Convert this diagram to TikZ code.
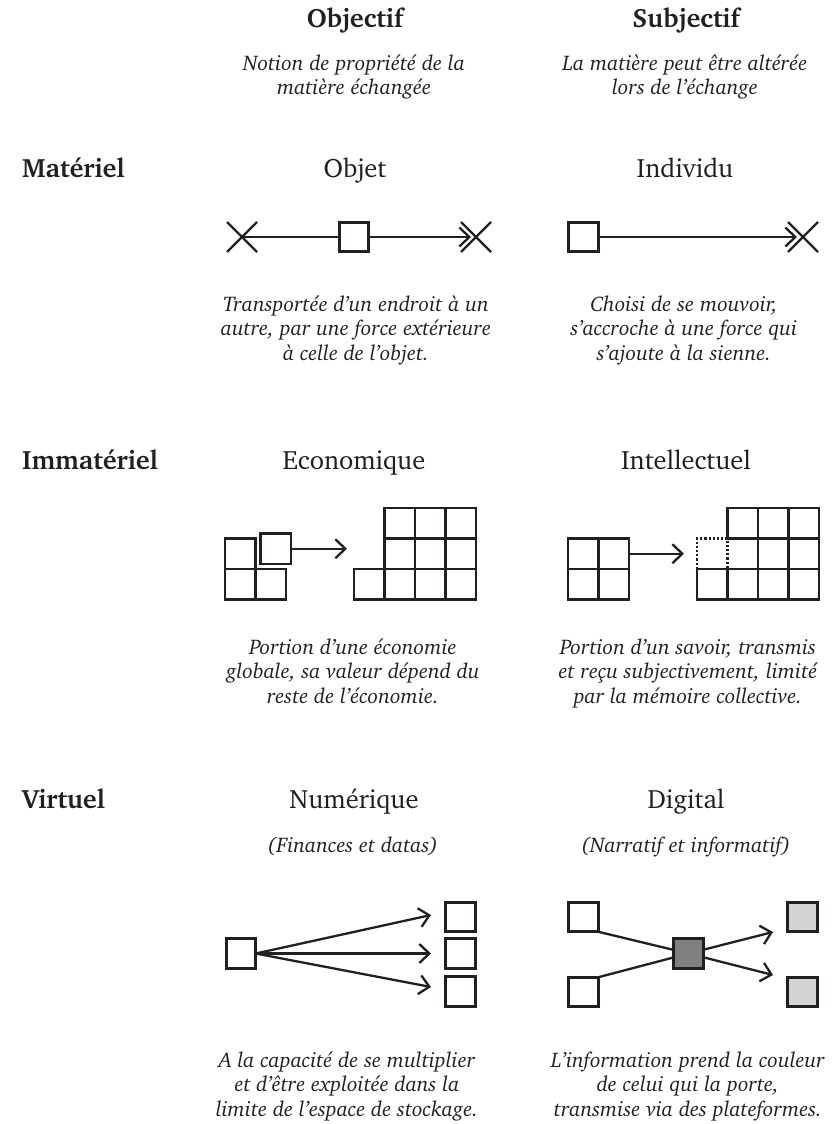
\documentclass[tikz,border=0pt]{standalone}
\usepackage[T1]{fontenc}
\usepackage{charter}
\usetikzlibrary{arrows.meta}
\definecolor{ink}{HTML}{231F20}
\definecolor{darkfill}{HTML}{7F7F80}
\definecolor{lightfill}{HTML}{D3D3D4}
\begin{document}
\begin{tikzpicture}[x=1pt,y=-1pt,
  head/.style={font=\fontsize{26.5}{30}\selectfont\bfseries, text=ink, inner sep=0, anchor=base},
  title/.style={font=\fontsize{26.5}{30}\selectfont, text=ink, inner sep=0, anchor=base},
  desc/.style={font=\fontsize{21.2}{24.5}\selectfont\itshape, text=ink, inner sep=0, anchor=base, align=center},
  sq/.style={draw=ink, line width=2.7pt, minimum size=29.5pt, inner sep=0, outer sep=0, fill=white},
  cellnode/.style={draw=ink, line width=2.7pt, minimum size=30.5pt, inner sep=0, outer sep=0},
  conn/.style={draw=ink, line width=2.3pt},
  arr/.style={conn, -{Straight Barb[length=10pt,width=19pt]}},
  cross/.style={draw=ink, line width=2.3pt},
  dotcell/.style={draw=ink, line width=2.4pt, dash pattern=on 2.2pt off 2pt}
]
\fill[white] (0,0) rectangle (838,1124);
\useasboundingbox (0,0) rectangle (838,1124);

% column headers
\node[head] (hObj) at (355,28) {Objectif};
\node[head] (hSub) at (686,28) {Subjectif};
\node[desc] (dObj) at (354,95) {Notion de propriété de la\\matière échangée};
\node[desc] (dSub) at (685,95) {La matière peut être altérée\\lors de l'échange};

% row headers
\node[head, anchor=base west] (rMat) at (22,177) {Matériel};
\node[head, anchor=base west] (rImm) at (22,469) {Immatériel};
\node[head, anchor=base west] (rVir) at (22,808) {Virtuel};

% titles
\node[title] (tObj) at (355,177) {Objet};
\node[title] (tInd) at (685,177) {Individu};
\node[title] (tEco) at (354,469) {Economique};
\node[title] (tInt) at (686,469) {Intellectuel};
\node[title] (tNum) at (354,808) {Numérique};
\node[title] (tDig) at (686,808) {Digital};
\node[desc] (sNum) at (353,852) {(Finances et datas)};
\node[desc] (sDig) at (686,852) {(Narratif et informatif)};

% captions (base = baseline of the last line)
\node[desc] (cObj) at (356,360) {Transportée d'un endroit à un\\autre, par une force extérieure\\à celle de l'objet.};
\node[desc] (cInd) at (684,360) {Choisi de se mouvoir,\\s'accroche à une force qui\\s'ajoute à la sienne.};
\node[desc] (cEco) at (353,703) {Portion d'une économie\\globale, sa valeur dépend du\\reste de l'économie.};
\node[desc] (cInt) at (688,703) {Portion d'un savoir, transmis\\et reçu subjectivement, limité\\par la mémoire collective.};
\node[desc] (cNum) at (347,1116) {A la capacité de se multiplier\\et d'être exploitée dans la\\limite de l'espace de stockage.};
\node[desc] (cDig) at (688,1116) {L'information prend la couleur\\de celui qui la porte,\\transmise via des plateformes.};

% ---- Objet
\coordinate (objL) at (242,237);
\coordinate (objR) at (471,237);
\coordinate (objX) at (476,237);
\node[sq] (objBox) at (354,237) {};
\draw[conn] (objL) -- (objBox.west);
\draw[arr] (objBox.east) -- (objR);
\draw[cross] ([shift={(-15,-15)}]objL) -- ([shift={(15,15)}]objL)
             ([shift={(-15,15)}]objL) -- ([shift={(15,-15)}]objL);
\draw[cross] ([shift={(-15,-15)}]objX) -- ([shift={(15,15)}]objX)
             ([shift={(-15,15)}]objX) -- ([shift={(15,-15)}]objX);

% ---- Individu
\coordinate (indR) at (797,237);
\coordinate (indX) at (803,237);
\node[sq] (indBox) at (583.5,237) {};
\draw[arr] (indBox.east) -- (indR);
\draw[cross] ([shift={(-15,-15)}]indX) -- ([shift={(15,15)}]indX)
             ([shift={(-15,15)}]indX) -- ([shift={(15,-15)}]indX);

% ---- Economique
\node[cellnode] (eL1) at (240.25,553.75) {};
\node[cellnode] (eL2) at (240.25,584.25) {};
\node[cellnode] (eL3) at (270.75,584.25) {};
\node[cellnode] (eUp) at (275.75,548.75) {};
\coordinate (eTip) at (347,548.75);
\draw[arr] (eUp.east) -- (eTip);
\foreach \i in {0,...,3} \node[cellnode] (eB\i) at (369.25+\i*30.5,584.25) {};
\foreach \i in {1,2,3} {
  \node[cellnode] (eM\i) at (369.25+\i*30.5,553.75) {};
  \node[cellnode] (eT\i) at (369.25+\i*30.5,523.25) {};
}

% ---- Intellectuel
\node[cellnode] (iL1) at (583.25,553.75) {};
\node[cellnode] (iL2) at (613.75,553.75) {};
\node[cellnode] (iL3) at (583.25,584.25) {};
\node[cellnode] (iL4) at (613.75,584.25) {};
\coordinate (iTip) at (684,553.75);
\draw[arr] (iL2.east) -- (iTip);
\foreach \i in {0,...,3} \node[cellnode] (iB\i) at (712.25+\i*30.5,584.25) {};
\foreach \i in {1,2,3} \node[cellnode] (iT\i) at (712.25+\i*30.5,523.25) {};
\foreach \i in {2,3} \node[cellnode] (iM\i) at (712.25+\i*30.5,553.75) {};
\draw[dotcell] (697,569) -- (697,538.5) -- (727.5,538.5) -- (727.5,569);

% ---- Numerique
\node[sq] (nL) at (241,953.5) {};
\node[sq] (nR1) at (460.5,917) {};
\node[sq] (nR2) at (460.5,953.5) {};
\node[sq] (nR3) at (460.5,991.5) {};
\coordinate (nTip1) at (431,915);
\coordinate (nTip2) at (431,953.5);
\coordinate (nTip3) at (431,987);
\draw[arr] (nL.east) -- (nTip1);
\draw[arr] (nL.east) -- (nTip2);
\draw[arr] (nL.east) -- (nTip3);

% ---- Digital
\node[sq] (dTL) at (583.5,917) {};
\node[sq] (dBL) at (583.5,992) {};
\node[sq, fill=darkfill] (dk) at (688.5,953.5) {};
\node[sq, fill=lightfill] (dTR) at (802.5,917) {};
\node[sq, fill=lightfill] (dBR) at (802.5,992) {};
\coordinate (dTip1) at (773,932);
\coordinate (dTip2) at (773,975);
\draw[conn] (dTL.south east) -- (dk);
\draw[conn] (dBL.north east) -- (dk);
\draw[arr] (dk) -- (dTip1);
\draw[arr] (dk) -- (dTip2);
\end{tikzpicture}
\end{document}
